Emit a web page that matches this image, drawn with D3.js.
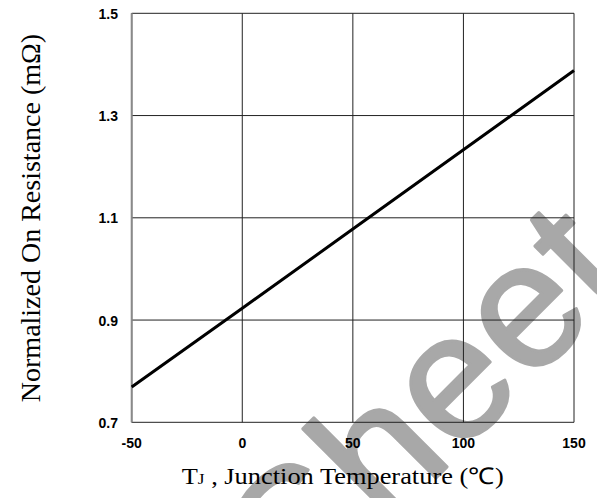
<!DOCTYPE html>
<html>
<head>
<meta charset="utf-8">
<script src="https://cdn.jsdelivr.net/npm/d3@7"></script>
<style>
  body { margin: 0; background: #fff; }
  svg { display: block; }
</style>
</head>
<body>
<div id="chart"></div>
<script>
// Data
const temps = [-50, 0, 50, 100, 150];
const resist = [0.769, 0.923, 1.078, 1.233, 1.388];

const xTicks = [-50, 0, 50, 100, 150];
const yTicks = [0.7, 0.9, 1.1, 1.3, 1.5];

const w = 597, h = 498;
const plotLeft = 131.7, plotRight = 574, plotTop = 13.3, plotBottom = 422.3;

const svg = d3.select("#chart").append("svg")
  .attr("width", w)
  .attr("height", h);

const x = d3.scaleLinear().domain([-50, 150]).range([plotLeft, plotRight]);
const y = d3.scaleLinear().domain([0.7, 1.5]).range([plotBottom, plotTop]);

// Watermark sits under everything
svg.append("text")
  .attr("x", 300).attr("y", 614)
  .attr("transform", "rotate(-45, 300, 614)")
  .style("font-family", "Liberation Sans, Arial, sans-serif")
  .style("font-size", "178px")
  .style("letter-spacing", "2px")
  .attr("fill", "#a8a8a8")
  .attr("stroke", "#a8a8a8")
  .attr("stroke-width", 3)
  .attr("stroke-linejoin", "round")
  .text("Sheet");

// Grid lines
svg.append("g").selectAll("line")
  .data(xTicks)
  .enter().append("line")
  .attr("x1", d => x(d)).attr("x2", d => x(d))
  .attr("y1", plotTop).attr("y2", plotBottom)
  .attr("stroke", "#222")
  .attr("stroke-width", 1);

svg.append("g").selectAll("line")
  .data(yTicks)
  .enter().append("line")
  .attr("x1", plotLeft).attr("x2", plotRight)
  .attr("y1", d => y(d)).attr("y2", d => y(d))
  .attr("stroke", "#222")
  .attr("stroke-width", 1);

// Left border is grey and a bit heavier
svg.append("line")
  .attr("x1", plotLeft).attr("x2", plotLeft)
  .attr("y1", plotTop).attr("y2", plotBottom)
  .attr("stroke", "#8a8a8a")
  .attr("stroke-width", 2);

// Tick labels
svg.append("g").selectAll("text")
  .data(xTicks)
  .enter().append("text")
  .attr("x", d => x(d))
  .attr("y", 448)
  .style("text-anchor", "middle")
  .style("font-family", "Liberation Sans, Arial, sans-serif")
  .style("font-weight", "bold")
  .style("font-size", "14px")
  .text(d => d);

svg.append("g").selectAll("text")
  .data(yTicks)
  .enter().append("text")
  .attr("x", 118)
  .attr("y", d => y(d) + 5.5)
  .style("text-anchor", "end")
  .style("font-family", "Liberation Sans, Arial, sans-serif")
  .style("font-weight", "bold")
  .style("font-size", "14px")
  .text(d => d.toFixed(1));

// The curve
const line = d3.line()
  .x((d, i) => x(temps[i]))
  .y(d => y(d));

svg.append("path")
  .datum(resist)
  .attr("d", line)
  .attr("fill", "none")
  .attr("stroke", "#000")
  .attr("stroke-width", 3);

// Axis titles (the original is stretched sideways a little)
const xTitleG = svg.append("g");
const xTitle = xTitleG.append("text")
  .attr("x", 0)
  .attr("y", 0)
  .style("font-family", "Liberation Serif, Times New Roman, serif")
  .style("font-size", "23px");
xTitle.append("tspan").text("T");
xTitle.append("tspan").style("font-size", "15px").text("J");
xTitle.append("tspan").text(" , Junction Temperature (℃)");
const xLen = xTitle.node().getComputedTextLength();
xTitleG.attr("transform", "translate(181.7, 484.3) scale(" + (322 / xLen) + ", 1)");

svg.append("text")
  .attr("transform", "translate(40, 218) rotate(-90)")
  .style("text-anchor", "middle")
  .style("font-family", "Liberation Serif, Times New Roman, serif")
  .style("font-size", "28px")
  .text("Normalized On Resistance (mΩ)");
</script>
</body>
</html>
